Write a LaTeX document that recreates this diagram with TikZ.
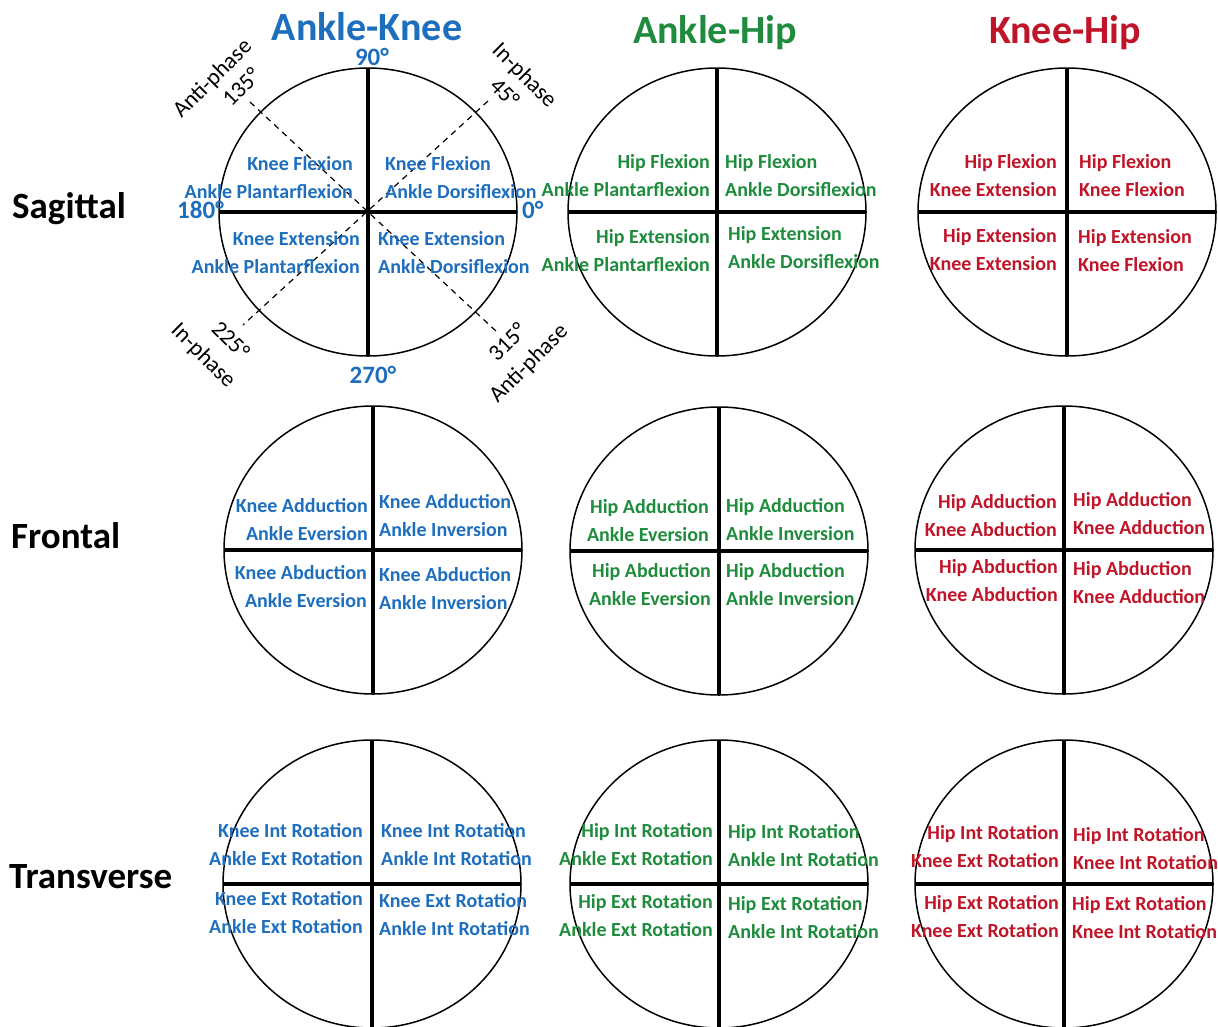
\documentclass[tikz,border=0pt]{standalone}
\usepackage{fontspec}
\setmainfont{Carlito}
\usepackage{xcolor}
\usepackage{tikz}
\usetikzlibrary{calc}
\definecolor{akblue}{RGB}{30,110,190}
\definecolor{ahgreen}{RGB}{30,140,60}
\definecolor{khred}{RGB}{192,20,40}

\begin{document}
\begin{tikzpicture}[x=1pt,y=-1pt,
    ring/.style={line width=1.5pt},
    cross/.style={line width=4pt},
    diag/.style={line width=1.2pt, dash pattern=on 6pt off 5pt},
    phase/.style={inner sep=0pt, font=\fontsize{23}{23}\selectfont},
    deg/.style={inner sep=0pt, akblue, font=\bfseries\fontsize{25}{25}\selectfont},
    title/.style={anchor=base, inner sep=0pt, font=\bfseries\fontsize{40}{40}\selectfont},
    plane/.style={anchor=base west, inner sep=0pt, font=\bfseries\fontsize{37}{37}\selectfont},
    lt/.style={anchor=base east, align=right, inner sep=0pt, font=\bfseries\fontsize{20}{28}\selectfont},
    rt/.style={anchor=base west, align=left, inner sep=0pt, font=\bfseries\fontsize{20}{28}\selectfont}]
        \useasboundingbox (0,0) rectangle (1218,1026);
        %TITEL
        \node[title, akblue] (tak) at (367,40) {Ankle-Knee};
        \node[title, ahgreen] (tah) at (715,43) {Ankle-Hip};
        \node[title, khred] (tkh) at (1065,43) {Knee-Hip};
        \node[plane] (sag) at (12,218) {Sagittal};
        \node[plane] (fro) at (11,548) {Frontal};
        \node[plane] (tra) at (9,888) {Transverse};
        %FASE
        \coordinate (d135) at (250,102);
        \coordinate (d45) at (488,101);
        \coordinate (d225) at (243,325);
        \coordinate (d315) at (497,332);
        \draw[diag] (d135) -- (d315);
        \draw[diag] (d45) -- (d225);
        %LINGKARAN
        \foreach \n/\cx/\cy in {1/368/212,2/717/212,3/1067/212,4/373/550,5/719/551,6/1064/550,7/372/884,8/719/884,9/1064/884}{
            \coordinate (o\n) at (\cx,\cy);
            \draw[ring] (o\n) ellipse [x radius=149, y radius=144];
            \draw[cross] (\cx,\cy-144) -- (\cx,\cy+144);
            \draw[cross] (\cx-149,\cy) -- (\cx+149,\cy);
        }
        %SUDUT
        \node[deg, anchor=base] (a90) at (372,65) {90°};
        \node[deg, anchor=base east] (a180) at (224,218) {180°};
        \node[deg, anchor=base west] (a0) at (522,218) {0°};
        \node[deg, anchor=base] (a270) at (373,383) {270°};
        \node[phase, rotate=45] (p135) at (241,87) {135°};
        \node[phase, rotate=45] (ap1) at (213,79) {Anti-phase};
        \node[phase, rotate=-45] (p45) at (505,93) {45°};
        \node[phase, rotate=-45] (ip1) at (524,76) {In-phase};
        \node[phase, rotate=-45] (p225) at (231,340) {225°};
        \node[phase, rotate=-45] (ip2) at (203,356) {In-phase};
        \node[phase, rotate=45] (p315) at (507,342) {315°};
        \node[phase, rotate=45] (ap2) at (529,364) {Anti-phase};
        %SAGITTAL
        \node[lt, akblue] (s1a) at (353,198) {Knee Flexion\\Ankle Plantarflexion};
        \node[rt, akblue] (s1b) at (385,198) {Knee Flexion\\Ankle Dorsiflexion};
        \node[lt, akblue] (s1c) at (360,273) {Knee Extension\\Ankle Plantarflexion};
        \node[rt, akblue] (s1d) at (378,273) {Knee Extension\\Ankle Dorsiflexion};
        \node[lt, ahgreen] (s2a) at (710,196) {Hip Flexion\\Ankle Plantarflexion};
        \node[rt, ahgreen] (s2b) at (725,196) {Hip Flexion\\Ankle Dorsiflexion};
        \node[lt, ahgreen] (s2c) at (710,271) {Hip Extension\\Ankle Plantarflexion};
        \node[rt, ahgreen] (s2d) at (728,268) {Hip Extension\\Ankle Dorsiflexion};
        \node[lt, khred] (s3a) at (1057,196) {Hip Flexion\\Knee Extension};
        \node[rt, khred] (s3b) at (1079,196) {Hip Flexion\\Knee Flexion};
        \node[lt, khred] (s3c) at (1057,270) {Hip Extension\\Knee Extension};
        \node[rt, khred] (s3d) at (1078,271) {Hip Extension\\Knee Flexion};
        %FRONTAL
        \node[lt, akblue] (f1a) at (368,540) {Knee Adduction\\Ankle Eversion};
        \node[rt, akblue] (f1b) at (379,536) {Knee Adduction\\Ankle Inversion};
        \node[lt, akblue] (f1c) at (367,607) {Knee Abduction\\Ankle Eversion};
        \node[rt, akblue] (f1d) at (379,609) {Knee Abduction\\Ankle Inversion};
        \node[lt, ahgreen] (f2a) at (709,541) {Hip Adduction\\Ankle Eversion};
        \node[rt, ahgreen] (f2b) at (726,540) {Hip Adduction\\Ankle Inversion};
        \node[lt, ahgreen] (f2c) at (711,605) {Hip Abduction\\Ankle Eversion};
        \node[rt, ahgreen] (f2d) at (726,605) {Hip Abduction\\Ankle Inversion};
        \node[lt, khred] (f3a) at (1057,536) {Hip Adduction\\Knee Abduction};
        \node[rt, khred] (f3b) at (1073,534) {Hip Adduction\\Knee Adduction};
        \node[lt, khred] (f3c) at (1058,601) {Hip Abduction\\Knee Abduction};
        \node[rt, khred] (f3d) at (1073,603) {Hip Abduction\\Knee Adduction};
        %TRANSVERSE
        \node[lt, akblue] (t1a) at (363,865) {Knee Int Rotation\\Ankle Ext Rotation};
        \node[rt, akblue] (t1b) at (381,865) {Knee Int Rotation\\Ankle Int Rotation};
        \node[lt, akblue] (t1c) at (363,933) {Knee Ext Rotation\\Ankle Ext Rotation};
        \node[rt, akblue] (t1d) at (379,935) {Knee Ext Rotation\\Ankle Int Rotation};
        \node[lt, ahgreen] (t2a) at (713,865) {Hip Int Rotation\\Ankle Ext Rotation};
        \node[rt, ahgreen] (t2b) at (728,866) {Hip Int Rotation\\Ankle Int Rotation};
        \node[lt, ahgreen] (t2c) at (713,936) {Hip Ext Rotation\\Ankle Ext Rotation};
        \node[rt, ahgreen] (t2d) at (728,938) {Hip Ext Rotation\\Ankle Int Rotation};
        \node[lt, khred] (t3a) at (1059,867) {Hip Int Rotation\\Knee Ext Rotation};
        \node[rt, khred] (t3b) at (1073,869) {Hip Int Rotation\\Knee Int Rotation};
        \node[lt, khred] (t3c) at (1059,937) {Hip Ext Rotation\\Knee Ext Rotation};
        \node[rt, khred] (t3d) at (1072,938) {Hip Ext Rotation\\Knee Int Rotation};
    \end{tikzpicture}
\end{document}
